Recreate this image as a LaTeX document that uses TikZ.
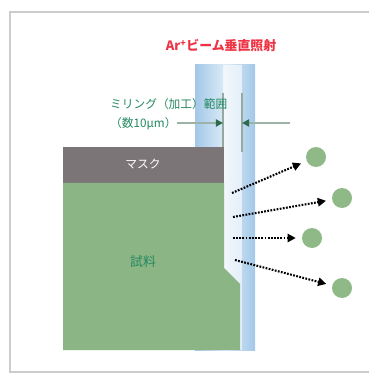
\documentclass[tikz,border=0pt]{standalone}
\usepackage{fontspec}
\usetikzlibrary{arrows.meta}
\newfontfamily\jp{Noto Sans CJK JP}
\definecolor{mask}{HTML}{7B7577}
\definecolor{sample}{HTML}{8CB585}
\definecolor{grain}{HTML}{8FBA88}
\definecolor{beamdark}{HTML}{A3C8E8}
\definecolor{beamlight}{HTML}{DCEBF7}
\definecolor{argon}{HTML}{EE3344}
\definecolor{millgreen}{HTML}{23885F}
\definecolor{rangeline}{HTML}{9DB3A7}
\definecolor{rangehead}{HTML}{2C6B4C}
\tikzset{
  jptext/.style={font=\jp\fontsize{10}{16}\selectfont},
  particle/.style={circle,fill=grain,minimum size=0.6cm,inner sep=0pt},
  sputter/.style={line width=1.8pt,dash pattern=on 1.5pt off 1.2pt,
    -{Triangle[length=7pt,width=7pt]},shorten >=0.18cm},
  rangearrow/.style={draw=rangeline,line width=2.2pt,
    -{Triangle[length=6pt,width=6pt,color=rangehead]}},
  rangemark/.style={draw=rangeline!80!gray,line width=0.9pt}
}

\begin{document}
\begin{tikzpicture}[x=0.03cm,y=-0.03cm]
    \useasboundingbox (0,0) rectangle (369,374);
    \fill[white] (0,0) rectangle (369,374);
    \draw[gray!40,line width=1pt] (369,12) -- (10,12) -- (10,372) -- (369,372);

    % ion beam
    \shade[left color=beamdark,right color=beamdark,middle color=beamlight] (195,65) rectangle (255,350);
    \fill[white,opacity=.6] (223,65) rectangle (242,350);
    \draw[rangemark] (223,93) -- (223,147);
    \draw[rangemark] (242,93) -- (242,152);

    % mask and sample
    \fill[mask] (63,147) rectangle (224,183);
    \fill[sample] (63,183) -- (224,183) -- (224,268) -- (240,284) -- (240,350) -- (63,350) -- cycle;

    \node[jptext,text=white] (masklabel) at (143,164) {マスク};
    \node[jptext,text=millgreen,font=\jp\fontsize{11}{13}\selectfont] (samplelabel) at (143,262) {試料};
    \node[text=argon,font=\jp\bfseries\fontsize{11}{13}\selectfont] (beamlabel) at (221,46) {Ar\textsuperscript{+}ビーム垂直照射};
    \node[jptext,text=millgreen,anchor=west,align=left] (millrange) at (106,114) {ミリング（加工）範囲\\（数10μm）};

    % milling width
    \coordinate (leftend) at (177,123);
    \coordinate (lefttip) at (223,123);
    \coordinate (rightend) at (290,123);
    \coordinate (righttip) at (242,123);
    \draw[rangearrow] (leftend) -- (lefttip);
    \draw[rangearrow] (rightend) -- (righttip);

    % sputtered particles
    \node[particle] (p1) at (316,157) {};
    \node[particle] (p2) at (342,198) {};
    \node[particle] (p3) at (312,238) {};
    \node[particle] (p4) at (342,288) {};
    \coordinate (s1) at (232,193);
    \coordinate (s2) at (233,217);
    \coordinate (s3) at (233,238);
    \coordinate (s4) at (235,260);
    \draw[sputter] (s1) -- (p1);
    \draw[sputter] (s2) -- (p2);
    \draw[sputter] (s3) -- (p3);
    \draw[sputter] (s4) -- (p4);
\end{tikzpicture}
\end{document}
